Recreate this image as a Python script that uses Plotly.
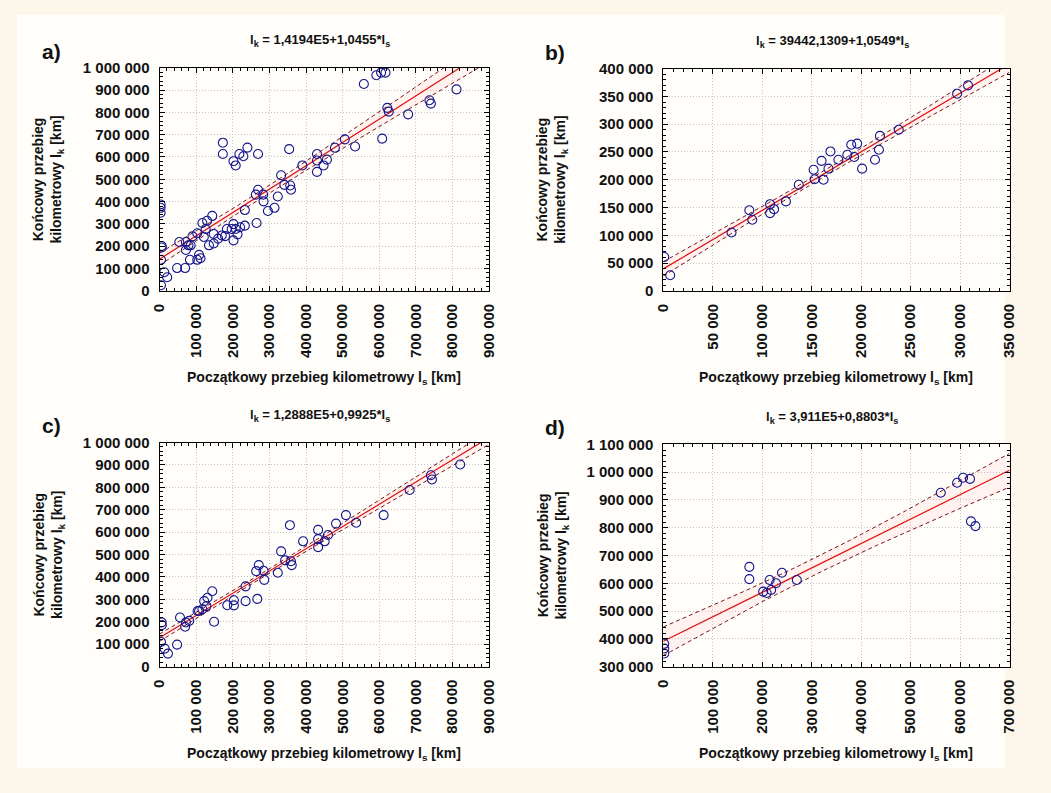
import numpy as np
import plotly.graph_objects as go

# ---------------- data (km) ----------------
a_x = [558, 592, 605, 617, 737, 741, 622, 626, 679, 608, 534, 506, 479, 811,
       430, 430, 430, 448, 457, 390, 354,
       173, 173, 202, 208, 218, 229, 240, 269,
       332, 341, 357, 359, 323, 314, 296, 269, 263, 283, 284, 233, 265, 233,
       202, 197, 208, 220, 213, 202, 184, 179, 170, 160, 144, 130, 117, 126, 121, 148, 135, 148,
       103, 90, 54, 72, 79, 72, 85, 83, 108, 112, 103, 48, 70,
       6, 6, 4, 13, 21, 4, 3, 3, 3]
a_y = [927, 966, 978, 978, 854, 839, 820, 803, 791, 682, 647, 679, 641, 903,
       613, 584, 533, 562, 588, 562, 635,
       664, 613, 581, 562, 613, 603, 642, 613,
       518, 475, 472, 453, 423, 372, 358, 453, 431, 431, 401, 362, 304, 292,
       299, 277, 277, 285, 253, 226, 277, 245, 248, 234, 336, 314, 304, 277, 241, 255, 204, 212,
       258, 244, 219, 219, 204, 183, 204, 139, 161, 146, 139, 102, 102,
       194, 201, 139, 83, 61, 25, 387, 372, 350]

b_x = [1, 7, 69, 87, 90, 108, 112, 108, 124, 137, 152, 153, 162, 160, 167, 169, 177,
       186, 190, 196, 193, 201, 214, 218, 219, 238, 297, 308]
b_y = [61, 28, 105, 145, 128, 156, 147, 140, 161, 191, 218, 201, 200, 234, 220, 251, 236,
       245, 263, 265, 241, 220, 236, 254, 279, 290, 355, 370]

c_x = [821, 741, 744, 683, 612, 537, 509, 482, 433, 433, 433, 451, 460, 392, 356,
       332, 343, 359, 361, 323, 271, 264, 284, 286, 235, 267, 235, 203, 203, 185,
       144, 131, 122, 128, 117, 108, 149, 104, 72, 70, 56, 81, 48, 6, 6, 4, 14, 23]
c_y = [902, 854, 835, 788, 676, 642, 676, 638, 610, 569, 533, 559, 587, 559, 631,
       514, 474, 470, 453, 419, 453, 426, 428, 387, 358, 302, 292, 296, 273, 274,
       336, 307, 292, 270, 256, 248, 200, 248, 197, 178, 219, 204, 98, 197, 185, 110, 80, 58]

d_x = [2, 2, 2, 174, 174, 202, 209, 215, 218, 228, 240, 270, 561, 594, 606, 620, 622, 631]
d_y = [382, 365, 347, 659, 615, 570, 565, 612, 576, 600, 638, 612, 926, 962, 980, 976, 823, 806]

# regression equations (from the titles)
intercepts = [141940.0, 39442.1309, 128880.0, 391100.0]
slopes = [1.0455, 1.0549, 0.9925, 0.8803]
titles = ["l<sub>k</sub> = 1,4194E5+1,0455*l<sub>s</sub>",
          "l<sub>k</sub> = 39442,1309+1,0549*l<sub>s</sub>",
          "l<sub>k</sub> = 1,2888E5+0,9925*l<sub>s</sub>",
          "l<sub>k</sub> = 3,911E5+0,8803*l<sub>s</sub>"]
letters = ["a)", "b)", "c)", "d)"]
x_ranges = [(0, 900000), (0, 350000), (0, 900000), (0, 700000)]
y_ranges = [(0, 1000000), (0, 400000), (0, 1000000), (300000, 1100000)]
x_dticks = [100000, 50000, 100000, 100000]
y_dticks = [100000, 50000, 100000, 100000]
band_t = [1.3, 1.7, 1.4, 2.0]

xs_all = [a_x, b_x, c_x, d_x]
ys_all = [a_y, b_y, c_y, d_y]

# ---------------- layout geometry (pixels) ----------------
W, H = 1051, 793
boxes = [(153, 488, 60, 288), (665, 1017, 61, 288), (153, 488, 443, 672), (665, 1017, 445, 672)]


def px(x):
    return x / W


def py(y):
    return 1 - y / H


FONT = "Liberation Sans, Arial, sans-serif"
fig = go.Figure()
annotations = []

for i in range(4):
    k = "" if i == 0 else str(i + 1)
    xa, ya = "x" + k, "y" + k
    x = np.array(xs_all[i], dtype=float) * 1000
    y = np.array(ys_all[i], dtype=float) * 1000
    b0, b1 = intercepts[i], slopes[i]
    xl = np.linspace(x_ranges[i][0], x_ranges[i][1], 200)
    yl = b0 + b1 * xl
    n = len(x)
    resid = y - (b0 + b1 * x)
    s = np.sqrt(np.sum(resid ** 2) / (n - 2))
    xbar = x.mean()
    sxx = np.sum((x - xbar) ** 2)
    half = band_t[i] * s * np.sqrt(1.0 / n + (xl - xbar) ** 2 / sxx)

    fig.add_trace(go.Scatter(x=xl, y=yl + half, mode="lines", xaxis=xa, yaxis=ya,
                             line=dict(color="#7a1515", width=1, dash="4px,3px"),
                             showlegend=False, hoverinfo="skip"))
    fig.add_trace(go.Scatter(x=xl, y=yl - half, mode="lines", xaxis=xa, yaxis=ya,
                             line=dict(color="#7a1515", width=1, dash="4px,3px"),
                             fill="tonexty", fillcolor="rgba(255,120,120,0.09)",
                             showlegend=False, hoverinfo="skip"))
    fig.add_trace(go.Scatter(x=xl, y=yl, mode="lines", xaxis=xa, yaxis=ya,
                             line=dict(color="#e01010", width=1.2),
                             showlegend=False, hoverinfo="skip"))
    fig.add_trace(go.Scatter(x=x, y=y, mode="markers", xaxis=xa, yaxis=ya,
                             marker=dict(symbol="circle-open", size=9,
                                         color="#14148c", line=dict(width=1.1, color="#14148c")),
                             showlegend=False))

    x0, x1, y0, y1 = boxes[i]
    common = dict(showline=True, linecolor="black", linewidth=1, mirror="allticks",
                  ticks="inside", ticklen=5, tickcolor="black",
                  showgrid=True, gridcolor="#c4c4c4", griddash="1px,2px", gridwidth=1,
                  zeroline=False, tickformat=",d",
                  tickfont=dict(family=FONT, size=15, color="#111111", weight="bold"),
                  ticklabelstandoff=6)
    fig.layout["xaxis" + k] = dict(domain=[px(x0), px(x1)], anchor=ya,
                                   range=list(x_ranges[i]), dtick=x_dticks[i], tick0=0,
                                   tickangle=-90,
                                   minor=dict(ticks="inside", ticklen=3, tickcolor="black",
                                              dtick=x_dticks[i] / 5, showgrid=False),
                                   **common)
    fig.layout["yaxis" + k] = dict(domain=[py(y1), py(y0)], anchor=xa,
                                   range=list(y_ranges[i]), dtick=y_dticks[i], tick0=0,
                                   minor=dict(ticks="inside", ticklen=3, tickcolor="black",
                                              dtick=y_dticks[i] / 5, showgrid=False),
                                   **common)

    # titles / labels
    annotations.append(dict(text=titles[i], x=px((x0 + x1) / 2 - 4), y=py(y0 - 28),
                            xref="paper", yref="paper", showarrow=False,
                            xanchor="center", yanchor="middle",
                            font=dict(family=FONT, size=13, color="#111111", weight="bold")))
    annotations.append(dict(text=letters[i], x=px(x0 - 110), y=py(y0 - 17),
                            xref="paper", yref="paper", showarrow=False,
                            xanchor="center", yanchor="middle",
                            font=dict(family=FONT, size=21, color="#111111", weight="bold")))
    annotations.append(dict(text="Końcowy przebieg<br>kilometrowy l<sub>k</sub> [km]",
                            x=px(x0 - 113), y=py((y0 + y1) / 2), textangle=-90,
                            xref="paper", yref="paper", showarrow=False,
                            xanchor="center", yanchor="middle",
                            font=dict(family=FONT, size=14, color="#111111", weight="bold")))
    annotations.append(dict(text="Początkowy przebieg kilometrowy l<sub>s</sub> [km]",
                            x=px((x0 + x1) / 2), y=py(y1 + 89),
                            xref="paper", yref="paper", showarrow=False,
                            xanchor="center", yanchor="middle",
                            font=dict(family=FONT, size=14, color="#111111", weight="bold")))

fig.update_layout(
    width=W, height=H, margin=dict(l=0, r=0, t=0, b=0),
    paper_bgcolor="#fcf7ea", plot_bgcolor="white",
    separators=", ", showlegend=False,
    annotations=annotations,
    shapes=[dict(type="rect", xref="paper", yref="paper", x0=px(8), x1=px(1012),
                 y0=py(776), y1=py(6), fillcolor="#fffefb", line=dict(width=0), layer="below")],
)

fig.write_html("out.html")
